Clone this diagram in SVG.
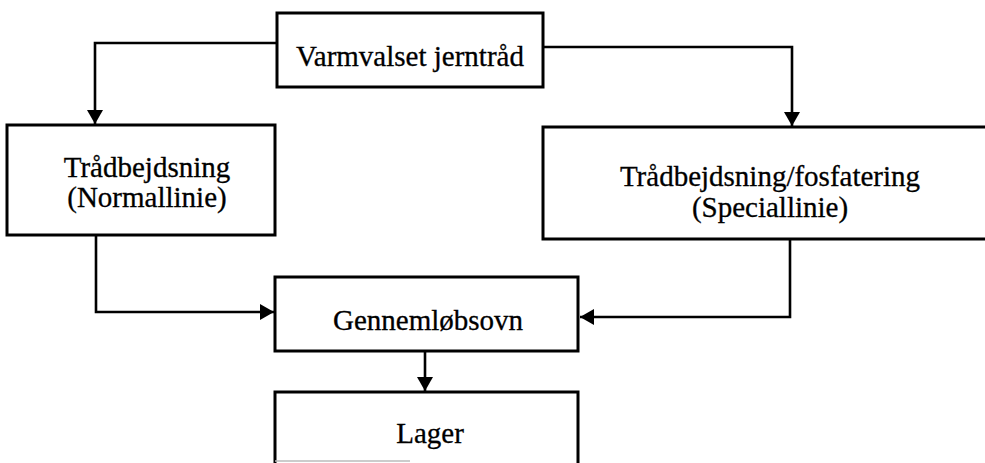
<svg xmlns="http://www.w3.org/2000/svg" width="985" height="463" viewBox="0 0 985 463">
  <style>
    .box { fill: #fff; stroke: #000; stroke-width: 3; }
    .lbl { font-family: "Liberation Serif", "Times New Roman", serif; font-size: 29px; fill: #000; stroke: #000; stroke-width: 0.3; text-anchor: middle; }
    .wire { fill: none; stroke: #000; stroke-width: 2.6; }
  </style>
  <defs>
    <marker id="arrow" markerUnits="userSpaceOnUse" markerWidth="14" markerHeight="16" refX="14" refY="8" orient="auto">
      <path d="M0,0 L14,8 L0,16 Z" fill="#000"/>
    </marker>
  </defs>

  <rect width="985" height="463" fill="#fff"/>

  <!-- connectors -->
  <g id="connectors">
    <path class="wire" d="M277,43 H95 V124" marker-end="url(#arrow)"/>
    <path class="wire" d="M543,47 H792 V126" marker-end="url(#arrow)"/>
    <path class="wire" d="M96,235 V312 H274" marker-end="url(#arrow)"/>
    <path class="wire" d="M790,239 V317 H580" marker-end="url(#arrow)"/>
    <path class="wire" d="M425,351 V391" marker-end="url(#arrow)"/>
  </g>

  <!-- nodes -->
  <g id="varmvalset">
    <rect class="box" x="277" y="13" width="266" height="74"/>
    <text class="lbl" x="410" y="66">Varmvalset jerntråd</text>
  </g>

  <g id="normallinie">
    <rect class="box" x="7" y="125" width="268" height="110"/>
    <text class="lbl" x="147" y="177">Trådbejdsning</text>
    <text class="lbl" x="147" y="207">(Normallinie)</text>
  </g>

  <g id="speciallinie">
    <path class="box" d="M990,127 H543 V239 H990"/>
    <text class="lbl" x="770" y="186">Trådbejdsning/fosfatering</text>
    <text class="lbl" x="770" y="217">(Speciallinie)</text>
  </g>

  <g id="gennemlobsovn">
    <rect class="box" x="275" y="277" width="303" height="74"/>
    <text class="lbl" x="428" y="330">Gennemløbsovn</text>
  </g>

  <g id="lager">
    <path class="box" d="M275,470 V392 H578 V470"/>
    <line x1="275" y1="461" x2="410" y2="461" stroke="#bbb" stroke-width="1.5"/>
    <text class="lbl" x="430" y="443">Lager</text>
  </g>
</svg>
